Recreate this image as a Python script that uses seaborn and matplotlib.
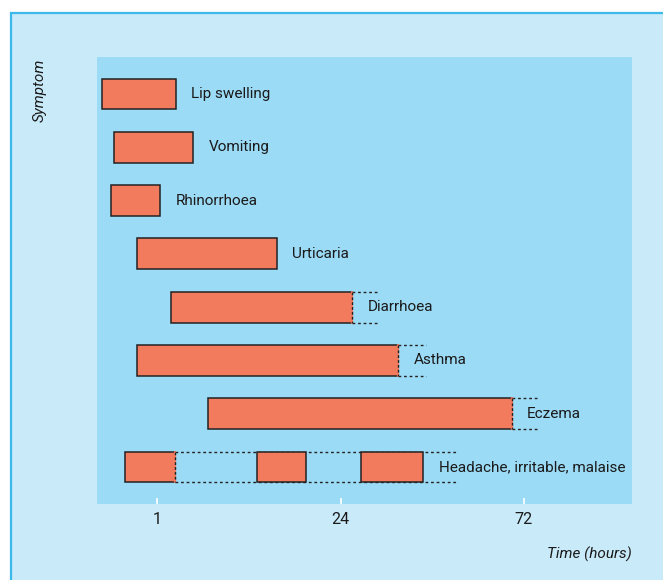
import numpy as np
import pandas as pd
import matplotlib
matplotlib.use('Agg')
import matplotlib.pyplot as plt
from matplotlib.patches import Rectangle
import seaborn as sns

# rows top to bottom
symptoms = ['Lip swelling', 'Vomiting', 'Rhinorrhoea', 'Urticaria',
            'Diarrhoea', 'Asthma', 'Eczema', 'Headache, irritable, malaise']

# bar segments, in axis units (tick 1 h = 1, 24 h = 2, 72 h = 3)
seg_symptom = ['Lip swelling', 'Vomiting', 'Rhinorrhoea', 'Urticaria',
               'Diarrhoea', 'Asthma', 'Eczema',
               'Headache, irritable, malaise', 'Headache, irritable, malaise',
               'Headache, irritable, malaise']
seg_start = [0.700, 0.766, 0.749, 0.891, 1.078, 0.889, 1.278, 0.827, 1.547, 2.112]
seg_end = [1.102, 1.196, 1.016, 1.654, 2.063, 2.315, 2.933, 1.098, 1.812, 2.451]
seg_part = [0, 0, 0, 0, 0, 0, 0, 0, 1, 2]

# dotted continuation (symptom may last longer)
tail_symptom = ['Diarrhoea', 'Asthma', 'Eczema', 'Headache, irritable, malaise']
tail_end = [2.203, 2.464, 3.082, 2.633]

tick_pos = [1, 2, 3]
tick_labels = ['1', '24', '72']

outer_col = '#c9eaf9'
inner_col = '#9cdbf6'
border_col = '#3cb8ea'
bar_col = '#f27b5d'
edge_col = '#222222'
bar_h = 0.58

sns.set_style('white')
plt.rcParams['font.family'] = ['Roboto', 'DejaVu Sans']

fig = plt.figure(figsize=(6.63, 5.80), dpi=100, facecolor='white')
fig.patches.append(Rectangle((11 / 663, -0.1), 1.2, 1 - 13 / 580 + 0.1,
                             transform=fig.transFigure, facecolor=outer_col,
                             edgecolor=border_col, linewidth=1.6, zorder=-10))

ax = fig.add_axes([96.7 / 663, 1 - 504 / 580, (632 - 96.7) / 663, (504 - 57) / 580])
ax.set_zorder(1)
ax.set_facecolor(inner_col)

df = pd.DataFrame({'symptom': seg_symptom, 'start': seg_start,
                   'end': seg_end, 'part': seg_part})
df['dur'] = df['end'] - df['start']
df['row'] = df['symptom'].map({s: i for i, s in enumerate(symptoms)})

for part, sub in df.groupby('part'):
    sub = sub.sort_values('row')
    sns.barplot(data=sub, x='dur', y='symptom', order=symptoms, orient='h',
                left=sub['start'].values, width=bar_h, color=bar_col,
                saturation=1, edgecolor=edge_col, linewidth=1.1,
                errorbar=None, zorder=3, ax=ax)

# dotted tails
first_end = df[df['part'] == 0].set_index('symptom')['end']
for s, e in zip(tail_symptom, tail_end):
    r = symptoms.index(s)
    x0 = first_end[s]
    for yy in (r - bar_h / 2, r + bar_h / 2):
        ax.plot([x0, e], [yy, yy], color=edge_col, lw=1.0,
                ls=(0, (2, 2)), zorder=2)
    # dotted right edge where the bar carries on
    ax.plot([x0, x0], [r - bar_h / 2, r + bar_h / 2], color=bar_col,
            lw=1.6, zorder=4)
    ax.plot([x0, x0], [r - bar_h / 2, r + bar_h / 2], color=edge_col,
            lw=1.0, ls=(0, (2, 1.5)), zorder=4)

# labels
last_end = df.groupby('symptom')['end'].max()
for i, s in enumerate(symptoms):
    ax.annotate(s, (last_end[s], i), xytext=(11, 0), textcoords='offset points',
                ha='left', va='center', fontsize=11, color='#1a1a1a')

ax.set_xlim(0.671, 3.589)
ax.set_ylim(7.694, -0.694)
ax.set_xticks(tick_pos)
ax.set_xticklabels(tick_labels)
ax.set_yticks([])
ax.set_xlabel('')
ax.set_ylabel('')
ax.tick_params(axis='x', direction='in', length=4.3, width=1.2, color='white',
               pad=6, labelsize=11.5, labelcolor='#1a1a1a', bottom=True)
for sp in ax.spines.values():
    sp.set_visible(False)

fig.text(40 / 663, 1 - 90 / 580, 'Symptom', rotation=90, ha='center',
         va='center', fontsize=11, style='italic', color='#1a1a1a')
fig.text(632 / 663, 1 - 554 / 580, 'Time (hours)', ha='right', va='center',
         fontsize=11, style='italic', color='#1a1a1a')

fig.savefig('out.png', dpi=100, facecolor='white')
